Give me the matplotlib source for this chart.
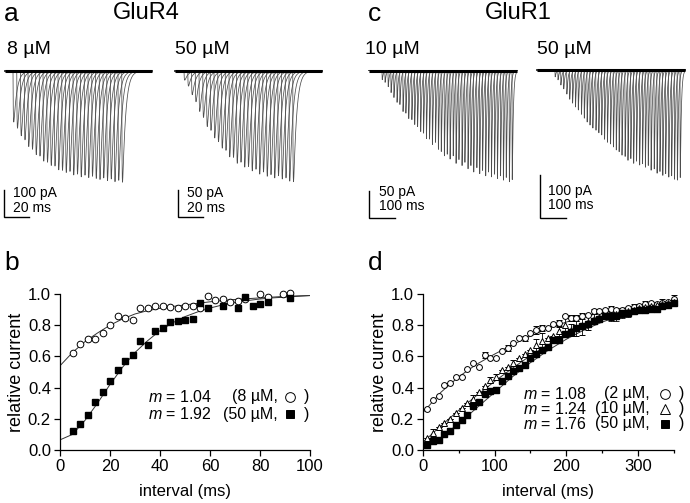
import numpy as np
import matplotlib
matplotlib.use('Agg')
import matplotlib.pyplot as plt

plt.rcParams['font.family'] = ['Liberation Sans', 'DejaVu Sans']
plt.rcParams['mathtext.fontset'] = 'custom'
plt.rcParams['mathtext.it'] = 'Liberation Sans:italic'
plt.rcParams['mathtext.rm'] = 'Liberation Sans'

W, H = 690, 503

# ---- panel a: GluR4 sweeps (interval ms, peak pA) ----
a_interval = [5, 8, 11, 14, 17, 20, 23, 26, 29, 32, 35, 38, 41, 44, 47,
              50, 53, 56, 59, 62, 65, 68, 71, 74, 77, 80, 83, 86, 89, 92]
a8_peak = [189, 212, 240, 255, 280, 290, 310, 315, 334, 338, 350, 352, 366, 368, 376,
           372, 385, 382, 392, 386, 395, 390, 398, 402, 396, 406, 400, 410, 405, 412]
a50_peak = [17, 28, 44, 57, 75, 86, 103, 110, 124, 131, 143, 147, 159, 160, 171,
            169, 178, 177, 185, 182, 191, 187, 195, 192, 198, 194, 200, 198, 204, 205]

# ---- panel c: GluR1 sweeps (time ms, peak pA) ----
c10_time = [50, 61, 73, 84, 95, 107, 118, 130, 141, 152, 164, 175, 186, 198, 209,
            220, 232, 243, 255, 266, 277, 289, 300, 311, 323, 334, 345, 357, 368, 380,
            391, 402, 414, 425, 436, 448, 459, 470, 482, 493, 505, 516, 527, 539, 550]
c10_peak = [17, 22, 30, 41, 50, 59, 63, 76, 79, 89, 91, 100, 104, 113, 116,
            126, 127, 137, 133, 146, 150, 158, 155, 164, 158, 172, 165, 176, 170, 182,
            176, 188, 180, 191, 185, 195, 188, 197, 192, 200, 195, 203, 198, 206, 202]
c50_time = [69, 80, 91, 102, 114, 125, 136, 147, 158, 170, 181, 192, 203, 214, 226,
            237, 248, 259, 270, 282, 293, 304, 315, 326, 338, 349, 360, 371, 382, 394,
            405, 416, 427, 438, 450, 461, 472, 483, 494, 506, 517, 528, 539, 550]
c50_peak = [16, 23, 35, 44, 56, 68, 77, 86, 93, 103, 112, 121, 128, 135, 140,
            146, 151, 161, 168, 172, 179, 186, 190, 198, 201, 210, 206, 217, 212, 221,
            218, 226, 222, 233, 230, 240, 236, 245, 241, 249, 246, 254, 256, 250]

# ---- panel b: GluR4 recovery ----
b8_x = [5, 8, 11, 14, 17, 20, 23, 26, 29, 32, 35, 38, 41, 44, 47, 50, 53, 56,
        59, 62, 65, 68, 71, 74, 80, 83, 89, 92]
b8_y = [0.62, 0.68, 0.71, 0.71, 0.75, 0.80, 0.86, 0.845, 0.835, 0.91, 0.91, 0.92,
        0.92, 0.915, 0.91, 0.925, 0.925, 0.912, 0.987, 0.96, 0.97, 0.946, 0.955,
        0.97, 0.998, 0.983, 0.998, 1.005]
b50_x = [5, 8, 11, 14, 17, 20, 23, 26, 29, 32, 35, 38, 41, 44, 47, 50, 53, 56,
         59, 65, 71, 74, 77, 80, 83, 92]
b50_y = [0.12, 0.165, 0.225, 0.31, 0.37, 0.44, 0.515, 0.57, 0.61, 0.70, 0.67, 0.765,
         0.78, 0.82, 0.825, 0.833, 0.838, 0.94, 0.908, 0.925, 0.912, 0.983, 0.925,
         0.934, 0.947, 0.976]
bfit_x = [0, 5, 10, 15, 20, 25, 30, 35, 40, 45, 50, 55, 60, 65, 70, 75, 80, 85, 90, 95, 100]
bfit8 = [0.54, 0.625, 0.695, 0.75, 0.80, 0.84, 0.872, 0.893, 0.908, 0.92, 0.93, 0.94,
         0.95, 0.958, 0.965, 0.97, 0.975, 0.98, 0.985, 0.988, 0.99]
bfit50 = [0.065, 0.10, 0.19, 0.30, 0.42, 0.53, 0.625, 0.70, 0.765, 0.815, 0.855, 0.885,
          0.91, 0.93, 0.945, 0.958, 0.968, 0.975, 0.98, 0.985, 0.99]

# ---- panel d: GluR1 recovery ----
d_x = [6, 14, 22, 30, 38, 46, 54, 62, 70, 78, 86, 94, 102, 110, 118, 126, 134, 142,
       150, 158, 166, 174, 182, 190, 198, 206, 214, 222, 230, 238, 246, 254, 262, 270,
       278, 286, 294, 302, 310, 318, 326, 334, 342, 350]
d2_y = [0.26, 0.32, 0.345, 0.415, 0.43, 0.47, 0.465, 0.52, 0.555, 0.535, 0.61, 0.59,
        0.59, 0.635, 0.655, 0.685, 0.72, 0.715, 0.75, 0.77, 0.78, 0.785, 0.805, 0.815,
        0.86, 0.845, 0.845, 0.86, 0.865, 0.89, 0.89, 0.895, 0.905, 0.895, 0.9, 0.91,
        0.915, 0.925, 0.935, 0.94, 0.935, 0.945, 0.95, 0.965]
d2_err = [0, 0, 0, 0, 0, 0, 0, 0, 0, 0, 0.02, 0, 0, 0, 0.02, 0, 0, 0.015,
          0, 0.025, 0.02, 0, 0, 0.02, 0, 0.02, 0.02, 0.02, 0, 0.015, 0, 0, 0.015, 0,
          0, 0, 0.02, 0, 0.02, 0, 0, 0.02, 0, 0.03]
d10_y = [0.08, 0.11, 0.15, 0.17, 0.20, 0.235, 0.27, 0.30, 0.33, 0.37, 0.41, 0.45,
         0.47, 0.51, 0.53, 0.56, 0.59, 0.615, 0.64, 0.67, 0.70, 0.72, 0.73, 0.76,
         0.80, 0.77, 0.78, 0.80, 0.82, 0.84, 0.85, 0.86, 0.865, 0.87, 0.875, 0.89,
         0.90, 0.91, 0.915, 0.925, 0.93, 0.935, 0.94, 0.95]
d10_err = [0, 0.025, 0, 0, 0, 0, 0, 0, 0.02, 0, 0, 0.02, 0.02, 0, 0, 0.02, 0, 0,
           0, 0.04, 0.05, 0, 0, 0.03, 0.065, 0.04, 0.05, 0.06, 0.05, 0.03, 0.03, 0, 0.03, 0.03,
           0, 0.02, 0, 0.02, 0, 0, 0.02, 0, 0, 0]
d50_y = [0.034, 0.06, 0.062, 0.10, 0.124, 0.158, 0.19, 0.226, 0.28, 0.31, 0.36, 0.38,
         0.387, 0.444, 0.476, 0.504, 0.526, 0.547, 0.59, 0.617, 0.643, 0.66, 0.703, 0.703,
         0.746, 0.754, 0.78, 0.797, 0.81, 0.825, 0.84, 0.857, 0.857, 0.86, 0.878, 0.88,
         0.893, 0.90, 0.90, 0.904, 0.904, 0.92, 0.93, 0.94]
d50_err = [0, 0, 0, 0, 0, 0, 0, 0, 0, 0, 0, 0, 0, 0, 0, 0, 0, 0, 0, 0, 0, 0,
           0.02, 0, 0, 0, 0, 0, 0, 0, 0, 0, 0.03, 0.03, 0.03, 0.03, 0, 0, 0, 0, 0, 0, 0, 0]
dfit_x = [0, 25, 50, 75, 100, 125, 150, 175, 200, 225, 250, 275, 300, 325, 350]
dfit2 = [0.24, 0.37, 0.47, 0.55, 0.615, 0.675, 0.73, 0.78, 0.82, 0.855, 0.88, 0.905,
         0.925, 0.94, 0.955]
dfit10 = [0.05, 0.155, 0.255, 0.35, 0.44, 0.525, 0.605, 0.675, 0.735, 0.79, 0.835,
          0.87, 0.9, 0.925, 0.945]
dfit50 = [0.02, 0.08, 0.17, 0.27, 0.37, 0.47, 0.56, 0.64, 0.71, 0.77, 0.82, 0.86,
          0.895, 0.92, 0.94]

fig = plt.figure(figsize=(W / 100, H / 100), dpi=100)


def px_axes(x0, y0, x1, y1):
    return fig.add_axes([x0 / W, 1 - y1 / H, (x1 - x0) / W, (y1 - y0) / H])


def ftext(x, y, s, **kw):
    fig.text(x / W, 1 - y / H, s, **kw)


def sweep(t, onset, amp, tr, td):
    s = np.clip(t - onset, 0, None)
    sp = tr * np.log((tr + td) / tr)
    norm = (td / (tr + td)) * np.exp(-sp / td)
    return -amp * (1 - np.exp(-s / tr)) * np.exp(-s / td) / norm


def trace_panel(box, x0, sx, ybase, sy, t0, t1, times, peaks, tr, td,
                bar_corner, bar_pa, bar_ms, bar_labels, label_x, label_y):
    bx0, by0, bx1, by1 = box
    ax = px_axes(bx0, by0, bx1, by1)
    ax.set_xlim((bx0 - x0) / sx, (bx1 - x0) / sx)
    ax.set_ylim(-(by1 - ybase) / sy, (ybase - by0) / sy)
    ax.axis('off')
    t = np.arange(t0, t1, 0.02)
    for on, pk in zip(times, peaks):
        ax.plot(t, sweep(t, on, pk, tr, td), color='0.3', lw=0.55)
    ax.plot([t0, t1], [0, 0], color='black', lw=2.2, solid_capstyle='butt')
    # scale bar
    cx = (bar_corner[0] - x0) / sx
    cy = -(bar_corner[1] - ybase) / sy
    ax.plot([cx, cx, cx + bar_ms], [cy + bar_pa, cy, cy], color='black', lw=1.0,
            clip_on=False, solid_joinstyle='miter')
    ftext(label_x, label_y[0], bar_labels[0], fontsize=10, va='center')
    ftext(label_x, label_y[1], bar_labels[1], fontsize=10, va='center')
    return ax


trace_panel((0, 60, 160, 225), 6.75, 1.25, 71, 0.27, -1.4, 116, a_interval, a8_peak,
            0.25, 2.5, (3.5, 217), 100, 20, ('100 pA', '20 ms'), 13, (193, 208))
trace_panel((170, 60, 330, 225), 177.75, 1.25, 71, 0.54, -2.2, 115.4, a_interval, a50_peak,
            0.25, 2.5, (178.3, 217), 50, 20, ('50 pA', '20 ms'), 187, (193, 208))
trace_panel((360, 60, 520, 225), 369, 0.26, 70.5, 0.54, 0, 569, c10_time, c10_peak,
            0.4, 4.0, (369, 218), 50, 100, ('50 pA', '100 ms'), 379, (192, 206))
trace_panel((530, 60, 690, 225), 537, 0.26, 70, 0.43, 0, 569, c50_time, c50_peak,
            0.4, 4.0, (540, 218), 100, 100, ('100 pA', '100 ms'), 548, (191, 205))

# titles and labels
ftext(4, 14, 'a', fontsize=19, va='center')
ftext(113, 13, 'GluR4', fontsize=17, va='center')
ftext(368, 14, 'c', fontsize=19, va='center')
ftext(485, 13, 'GluR1', fontsize=17, va='center')
ftext(4, 263, 'b', fontsize=19, va='center')
ftext(368, 263, 'd', fontsize=19, va='center')
ftext(7, 50, '8 µM', fontsize=14, va='center')
ftext(175, 50, '50 µM', fontsize=14, va='center')
ftext(365, 50, '10 µM', fontsize=14, va='center')
ftext(537, 50, '50 µM', fontsize=14, va='center')


def style_axes(ax):
    for s in ('top', 'right'):
        ax.spines[s].set_visible(False)
    for s in ('left', 'bottom'):
        ax.spines[s].set_linewidth(0.9)
    ax.tick_params(which='both', direction='out', width=0.9, labelsize=12, pad=2.5)
    ax.tick_params(which='major', length=4)
    ax.tick_params(which='minor', length=2.5)
    ax.set_ylim(0, 1.0)
    ax.set_yticks([0, 0.2, 0.4, 0.6, 0.8, 1.0])
    ax.set_yticklabels(['0.0', '0.2', '0.4', '0.6', '0.8', '1.0'])
    ax.set_ylabel('relative current', fontsize=13)
    ax.set_xlabel('interval (ms)', fontsize=12)
    ax.yaxis.set_label_coords(-0.14, 0.5)
    ax.xaxis.set_label_coords(0.5, -0.22)


# ---- panel b ----
axb = px_axes(60, 294, 310, 450)
axb.plot(bfit_x, bfit8, color='0.2', lw=0.7)
axb.plot(bfit_x, bfit50, color='0.2', lw=0.7)
axb.plot(b8_x, b8_y, 'o', ms=4.8, mfc='white', mec='black', mew=0.7, clip_on=False)
axb.plot(b50_x, b50_y, 's', ms=4.3, mfc='black', mec='black', clip_on=False)
axb.set_xlim(0, 100)
axb.set_xticks([0, 20, 40, 60, 80, 100])
style_axes(axb)

leg_b = [('$m$ = 1.04', '(8 µM,', 'o', 'white', 0.34),
         ('$m$ = 1.92', '(50 µM,', 's', 'black', 0.23)]
for mt, ct, mk, fc, yy in leg_b:
    axb.text(0.352, yy, mt, transform=axb.transAxes, fontsize=11.5, va='center')
    axb.text(0.87, yy, ct, transform=axb.transAxes, fontsize=11.5, va='center', ha='right')
    axb.plot([0.92], [yy], mk, transform=axb.transAxes, ms=7 if mk == 'o' else 6,
             mfc=fc, mec='black', mew=0.7, clip_on=False)
    axb.text(0.988, yy, ')', transform=axb.transAxes, fontsize=11.5, va='center', ha='center')

# ---- panel d ----
axd = px_axes(423, 294, 673.8, 450)
axd.plot(dfit_x, dfit2, color='0.2', lw=0.7)
axd.plot(dfit_x, dfit10, color='0.2', lw=0.7)
axd.plot(dfit_x, dfit50, color='0.2', lw=0.7)
axd.errorbar(d_x, d2_y, yerr=d2_err, fmt='o', ms=4.2, mfc='white', mec='black', mew=0.7,
             ecolor='black', elinewidth=0.6, capsize=2, capthick=0.6, clip_on=False)
axd.errorbar(d_x, d10_y, yerr=d10_err, fmt='^', ms=4.2, mfc='white', mec='black', mew=0.7,
             ecolor='black', elinewidth=0.6, capsize=2, capthick=0.6, clip_on=False)
axd.errorbar(d_x, d50_y, yerr=d50_err, fmt='s', ms=3.8, mfc='black', mec='black',
             ecolor='black', elinewidth=0.6, capsize=2, capthick=0.6, clip_on=False)
axd.set_xlim(0, 350)
axd.set_xticks([0, 100, 200, 300])
axd.set_xticks([50, 150, 250, 350], minor=True)
style_axes(axd)

leg_d = [('$m$ = 1.08', '(2 µM,', 'o', 'white', 0.36),
         ('$m$ = 1.24', '(10 µM,', '^', 'white', 0.264),
         ('$m$ = 1.76', '(50 µM,', 's', 'black', 0.168)]
for mt, ct, mk, fc, yy in leg_d:
    axd.text(0.399, yy, mt, transform=axd.transAxes, fontsize=11.5, va='center')
    axd.text(0.905, yy, ct, transform=axd.transAxes, fontsize=11.5, va='center', ha='right')
    axd.plot([0.965], [yy], mk, transform=axd.transAxes, ms=7 if mk != 's' else 6,
             mfc=fc, mec='black', mew=0.7, clip_on=False)
    axd.text(1.03, yy, ')', transform=axd.transAxes, fontsize=11.5, va='center', ha='center')

fig.savefig('out.png', dpi=100)
